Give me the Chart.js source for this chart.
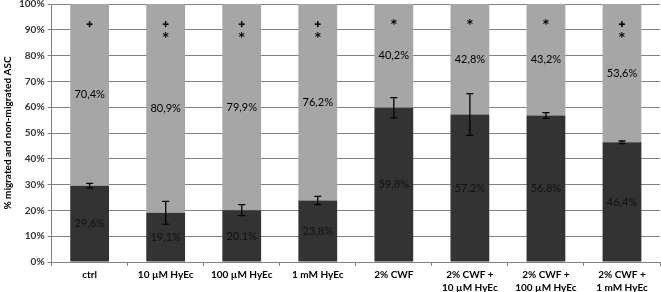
<!DOCTYPE html>
<html><head><meta charset="utf-8">
<script src="https://cdn.jsdelivr.net/npm/chart.js@4/dist/chart.umd.min.js"></script>
<style>html,body{margin:0;padding:0;background:#fff}#wrap{width:661px;height:292px}</style>
</head><body><div id="wrap"><canvas id="c" width="661" height="292"></canvas></div>
<script>
const categories = [["ctrl"],["10 µM HyEc"],["100 µM HyEc"],["1 mM HyEc"],["2% CWF"],["2% CWF +","10 µM HyEc"],["2% CWF +","100 µM HyEc"],["2% CWF +","1 mM HyEc"]];
const migrated = [29.6,19.1,20.1,23.8,59.8,57.2,56.8,46.4];
const nonMigrated = [70.4,80.9,79.9,76.2,40.2,42.8,43.2,53.6];
const migratedSD = [0.9,4.4,2.1,1.6,3.9,8.1,1.1,0.5];
const plusMarks = [true,true,true,true,false,false,false,true];
const starMarks = [false,true,true,true,true,true,true,true];
const yTicks = [0,10,20,30,40,50,60,70,80,90,100];
const fmt = v => v.toFixed(1).replace('.', ',') + '%';

const overlay = {
  id:'overlay',
  afterDatasetsDraw(chart){
    const ctx = chart.ctx, x = chart.scales.x, y = chart.scales.y;
    ctx.save();
    ctx.strokeStyle = '#000'; ctx.lineWidth = 1.3;
    migrated.forEach((v,i)=>{
      const cx = x.getPixelForValue(i);
      const t = y.getPixelForValue(v+migratedSD[i]), b = y.getPixelForValue(v-migratedSD[i]);
      ctx.beginPath();
      ctx.moveTo(cx,t); ctx.lineTo(cx,b);
      ctx.moveTo(cx-3.5,t); ctx.lineTo(cx+3.5,t);
      ctx.moveTo(cx-3.5,b); ctx.lineTo(cx+3.5,b);
      ctx.stroke();
    });
    ctx.font = '11px Lato, "Open Sans", sans-serif';
    ctx.textAlign='center'; ctx.textBaseline='middle';
    migrated.forEach((v,i)=>{
      const cx = x.getPixelForValue(i);
      ctx.fillStyle = '#111';
      ctx.fillText(fmt(v), cx, y.getPixelForValue(v/2));
      ctx.fillStyle = '#000';
      ctx.fillText(fmt(nonMigrated[i]), cx, y.getPixelForValue(v + nonMigrated[i]/2));
    });
    ctx.fillStyle='#000';
    const drawPlus = (cx, cy) => { ctx.fillRect(cx-3, cy-0.7, 6, 1.5); ctx.fillRect(cx-0.75, cy-3, 1.5, 6); };
    const drawStar = (cx, cy) => { ctx.font = 'bold 12px "DejaVu Sans", sans-serif'; ctx.fillText('*', cx, cy+2); };
    plusMarks.forEach((p,i)=>{
      const cx = x.getPixelForValue(i);
      const s = starMarks[i];
      if (p && s) {
        drawPlus(cx, y.getPixelForValue(92.2));
        drawStar(cx, y.getPixelForValue(87.8));
      } else if (p) {
        drawPlus(cx, y.getPixelForValue(92.2));
      } else if (s) {
        drawStar(cx, y.getPixelForValue(92.6));
      }
    });
    ctx.restore();
  }
};

new Chart(document.getElementById('c'), {
  type:'bar',
  data:{
    labels: categories,
    datasets:[
      {label:'migrated', data: migrated, backgroundColor:'#333333', barPercentage:0.51, categoryPercentage:1},
      {label:'non-migrated', data: nonMigrated, backgroundColor:'#a6a6a6', barPercentage:0.51, categoryPercentage:1}
    ]
  },
  options:{
    responsive:false, animation:false,
    layout:{padding:{top:4,right:1,left:0,bottom:0}},
    plugins:{legend:{display:false}, tooltip:{enabled:false}},
    scales:{
      x:{stacked:true,
        afterFit(s){ s.height = 30; s.paddingLeft = 0; s.paddingRight = 0; },
        grid:{drawOnChartArea:false, drawTicks:true, tickLength:4, color:'#808080', offset:true},
        border:{color:'#808080', width:1},
        ticks:{color:'#000', font:{family:'Lato, sans-serif', size:10, weight:'bold', lineHeight:1.3}, maxRotation:0, autoSkip:false, padding:2}
      },
      y:{stacked:true, min:0, max:100,
        afterFit(s){ s.paddingTop = 0; s.paddingBottom = 0; },
        afterBuildTicks(s){ s.ticks = yTicks.map(v=>({value:v})); },
        grid:{color:'#808080', tickLength:4, lineWidth:1},
        border:{color:'#808080'},
        ticks:{color:'#333', font:{family:'Lato, sans-serif', size:10, weight:'bold'}, callback:v=>v+'%', padding:3},
        title:{display:true, text:'% migrated and non-migrated ASC', color:'#000', font:{family:'Lato, sans-serif', size:10, weight:'bold'}, padding:{top:2,bottom:2}}
      }
    }
  },
  plugins:[overlay]
});
</script></body></html>
